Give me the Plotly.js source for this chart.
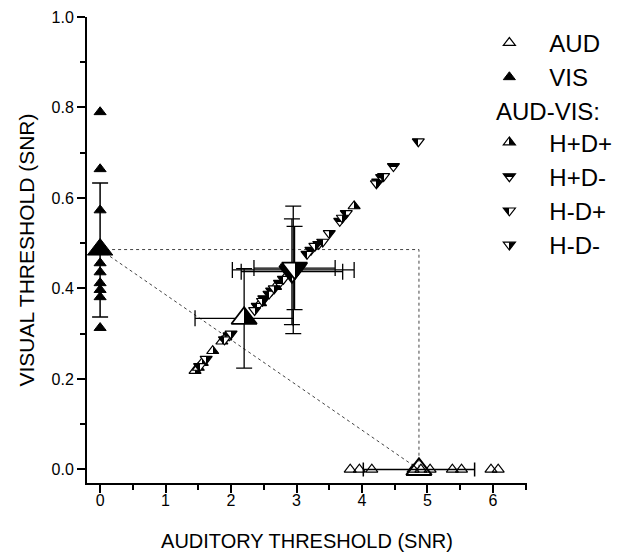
<!DOCTYPE html>
<html><head><meta charset="utf-8">
<script src="https://cdn.plot.ly/plotly-3.0.1.min.js"></script>
<style>body{margin:0;background:#fff}</style>
</head><body><div id="chart" style="width:634px;height:552px"></div>
<script>
// ---- data ----
var visY = [0.79, 0.664, 0.573, 0.49, 0.456, 0.436, 0.412, 0.397, 0.381, 0.313];
var visMean = 0.486, visErrPlus = 0.147, visErrMinus = 0.149;

var audX = [3.82, 3.96, 4.15, 4.78, 4.90, 5.04, 5.38, 5.52, 5.97, 6.08];
var audMean = 4.87, audErr = 0.85;

var hpdpX = [1.45, 1.50, 1.56, 1.72, 1.86, 1.92, 2.45, 2.68, 2.86, 3.88];
var hpdpY = [0.218, 0.225, 0.236, 0.262, 0.283, 0.292, 0.368, 0.404, 0.430, 0.582];
var hpdmX = [1.97, 2.50, 2.62, 2.74, 3.22, 3.34, 3.66, 4.24, 4.30, 4.48];
var hpdmY = [0.296, 0.378, 0.395, 0.412, 0.485, 0.498, 0.549, 0.636, 0.646, 0.670];
var hmdpX = [1.52, 1.90, 2.40, 2.58, 2.80, 3.16, 3.40, 3.76, 4.33, 4.86];
var hmdpY = [0.228, 0.287, 0.361, 0.388, 0.421, 0.476, 0.503, 0.566, 0.648, 0.725];
var hmdmX = [1.62, 2.00, 2.36, 2.48, 2.66, 2.92, 3.28, 3.50, 3.70, 4.22];
var hmdmY = [0.244, 0.300, 0.352, 0.372, 0.400, 0.440, 0.494, 0.522, 0.556, 0.632];

var condNames = ['H+D+', 'H+D-', 'H-D+', 'H-D-'];
var condMeanX = [2.20, 2.95, 2.93, 2.97];
var condMeanY = [0.334, 0.441, 0.437, 0.445];
var condErrX = [0.75, 0.93, 0.775, 0.62];
var condErrY = [0.110, 0.141, 0.117, 0.092];

// ---- styling ----
var condSymbols = ['triangle-up', 'triangle-down', 'triangle-down', 'triangle-down'];
var condUids = ['hpdp', 'hpdm', 'hmdp', 'hmdm'];
var condHalf = ['right', 'top', 'left', 'right'];
var condXs = [hpdpX, hpdmX, hmdpX, hmdmX];
var condYs = [hpdpY, hpdmY, hmdpY, hmdmY];

var SMALL = 10.5, BIG = 22;
var traces = [];

traces.push({
  x: [0, audMean, audMean, null, 0, audMean],
  y: [visMean, visMean, 0, null, visMean, 0],
  mode: 'lines', line: {color: '#444', width: 1, dash: 'dot'},
  showlegend: false, hoverinfo: 'skip'
});

traces.push({
  x: audX, y: audX.map(function(){return 0;}), mode: 'markers', name: 'AUD',
  legendgroup: 'a', legendrank: 1,
  marker: {symbol: 'triangle-up-open', size: SMALL, color: 'black', line: {width: 1.2, color: 'black'}}
});
traces.push({
  x: visY.map(function(){return 0;}), y: visY, mode: 'markers', name: 'VIS',
  legendgroup: 'a', legendrank: 2,
  marker: {symbol: 'triangle-up', size: SMALL, color: 'black', line: {width: 1, color: 'black'}}
});

for (var i = 0; i < 4; i++) {
  traces.push({
    x: condXs[i], y: condYs[i], mode: 'markers', name: condNames[i], uid: condUids[i] + 'I',
    legendgroup: 'b', legendrank: 3 + i,
    marker: {symbol: condSymbols[i], size: SMALL, color: 'white',
      gradient: {type: 'horizontal', color: 'black'},
      line: {width: 1.2, color: 'black'}}
  });
}

traces.push({
  x: [audMean], y: [0], mode: 'markers', showlegend: false,
  error_x: {type: 'data', array: [audErr], color: 'black', thickness: 1.5, width: 7},
  marker: {symbol: 'triangle-up-open', size: BIG, color: 'black', line: {width: 2, color: 'black'}}
});
traces.push({
  x: [0], y: [visMean], mode: 'markers', showlegend: false,
  error_y: {type: 'data', symmetric: false, array: [visErrPlus], arrayminus: [visErrMinus], color: 'black', thickness: 1.5, width: 8},
  marker: {symbol: 'triangle-up', size: BIG, color: 'black', line: {width: 1, color: 'black'}}
});
var meanOrder = [0, 1, 2, 3];
meanOrder.forEach(function(i) {
  traces.push({
    x: [condMeanX[i]], y: [condMeanY[i]], mode: 'markers', showlegend: false, uid: condUids[i] + 'M',
    error_x: {type: 'data', array: [condErrX[i]], color: 'black', thickness: 1.3, width: 8},
    error_y: {type: 'data', array: [condErrY[i]], color: 'black', thickness: 1.3, width: 8},
    marker: {symbol: condSymbols[i], size: BIG, color: 'white',
      gradient: {type: 'horizontal', color: 'black'},
      line: {width: 1.8, color: 'black'}}
  });
});

var axisCommon = {
  showline: true, linewidth: 2, linecolor: 'black', mirror: false,
  ticks: 'outside', ticklen: 8, tickwidth: 2, tickcolor: 'black',
  showgrid: false, zeroline: false, tickfont: {size: 16, color: 'black'}
};
var layout = {
  width: 634, height: 552,
  margin: {l: 87, r: 107, t: 17, b: 69},
  paper_bgcolor: 'white', plot_bgcolor: 'white',
  font: {family: 'Liberation Sans, Arial, sans-serif', color: 'black'},
  xaxis: Object.assign({}, axisCommon, {
    range: [-0.2, 6.52], tick0: 0, dtick: 1, ticklabelstandoff: -6,
    minor: {dtick: 0.5, tick0: 0, ticks: 'outside', ticklen: 5, tickwidth: 2, tickcolor: 'black', showgrid: false},
    title: {text: 'AUDITORY THRESHOLD (SNR)', font: {size: 20}}
  }),
  yaxis: Object.assign({}, axisCommon, {
    range: [-0.03, 1.0], tick0: 0, dtick: 0.2, tickformat: '.1f',
    minor: {dtick: 0.1, tick0: 0, ticks: 'outside', ticklen: 5, tickwidth: 2, tickcolor: 'black', showgrid: false},
    title: {text: 'VISUAL THRESHOLD (SNR)', font: {size: 21}}
  }),
  showlegend: true,
  legend: {x: 0.869, xanchor: 'left', y: 0.992, yanchor: 'top', font: {size: 24, color: 'black'},
    itemwidth: 70, tracegroupgap: 31, traceorder: 'grouped', bgcolor: 'rgba(0,0,0,0)', borderwidth: 0},
  annotations: [{
    text: 'AUD-VIS:', xref: 'paper', yref: 'paper', x: 0.925, y: 0.798, xanchor: 'left', yanchor: 'middle',
    showarrow: false, font: {size: 24, color: 'black'}
  }]
};

var halfSplit = {left: 0.5, right: 0.5, top: 0.42, bottom: 0.5};
function fixGradients() {
  var grads = document.querySelectorAll('#chart linearGradient, #chart radialGradient');
  var NS = 'http://www.w3.org/2000/svg';
  grads.forEach(function(g) {
    var id = g.id, half = null;
    for (var i = 0; i < 4; i++) {
      if (id.endsWith('-' + condUids[i] + 'I') || id.endsWith('-' + condUids[i] + 'M')) half = condHalf[i];
    }
    if (!half) return;
    var c = {left: [0,0,1,0], right: [1,0,0,0], top: [0,0,0,1], bottom: [0,1,0,0]}[half];
    var s = halfSplit[half];
    g.setAttribute('gradientUnits', 'objectBoundingBox');
    g.setAttribute('x1', c[0]); g.setAttribute('y1', c[1]);
    g.setAttribute('x2', c[2]); g.setAttribute('y2', c[3]);
    g.removeAttribute('gradientTransform');
    while (g.firstChild) g.removeChild(g.firstChild);
    [[0,'black'],[s,'black'],[s,'white'],[1,'white']].forEach(function(p) {
      var st = document.createElementNS(NS, 'stop');
      st.setAttribute('offset', p[0]);
      st.setAttribute('stop-color', p[1]);
      g.appendChild(st);
    });
  });
}

Plotly.newPlot('chart', traces, layout, {staticPlot: true}).then(fixGradients);
</script>
</body></html>
